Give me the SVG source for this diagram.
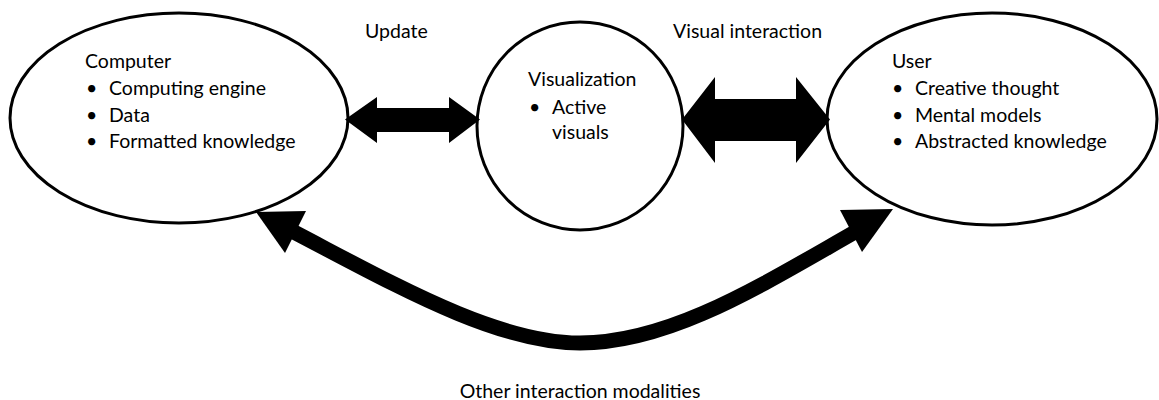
<svg xmlns="http://www.w3.org/2000/svg" width="1159" height="400" viewBox="0 0 1159 400">
<style>
.node{fill:#fff;stroke:#000;stroke-width:3}
.t{font-family:Lato,"Open Sans",sans-serif;font-size:19.5px;fill:#000}
.arr{fill:#000}
.crv{fill:none;stroke:#000;stroke-width:15}
</style>
<rect width="1159" height="400" fill="#fff"/>
<g id="computer">
<ellipse class="node" cx="179" cy="118" rx="169" ry="105"/>
<text class="t" x="85" y="68">Computer</text>
<text class="t" x="86" y="95">•</text><text class="t" x="109" y="95">Computing engine</text>
<text class="t" x="86" y="122">•</text><text class="t" x="109" y="122">Data</text>
<text class="t" x="86" y="148">•</text><text class="t" x="109" y="148">Formatted knowledge</text>
</g>
<g id="visualization">
<ellipse class="node" cx="580" cy="126" rx="103" ry="104"/>
<text class="t" x="528" y="86">Visualization</text>
<text class="t" x="529" y="114">•</text><text class="t" x="552" y="114">Active</text>
<text class="t" x="552" y="139">visuals</text>
</g>
<g id="user">
<ellipse class="node" cx="992" cy="119" rx="165" ry="106"/>
<text class="t" x="892" y="68">User</text>
<text class="t" x="892" y="95">•</text><text class="t" x="915" y="95">Creative thought</text>
<text class="t" x="892" y="122">•</text><text class="t" x="915" y="122">Mental models</text>
<text class="t" x="892" y="148">•</text><text class="t" x="915" y="148">Abstracted knowledge</text>
</g>
<g id="connectors">
<polygon class="arr" points="345,119.5 377,97 377,108 449,108 449,97 480,119.5 449,143 449,132 377,132 377,143"/>
<polygon class="arr" points="682,119.5 715,77 715,99 796,99 796,77 830,119.5 796,163 796,141 715,141 715,163"/>
<path class="crv" d="M292,231 C392,283 495,343 580,343 C670,343 760,286 855,232"/>
<polygon class="arr" points="256,212 306,211 285,253"/>
<polygon class="arr" points="893,209 840,210 862,252"/>
</g>
<g id="labels">
<text class="t" x="365" y="38">Update</text>
<text class="t" x="673" y="38">Visual interaction</text>
<text class="t" x="580" y="398" text-anchor="middle">Other interaction modalities</text>
</g>
</svg>
